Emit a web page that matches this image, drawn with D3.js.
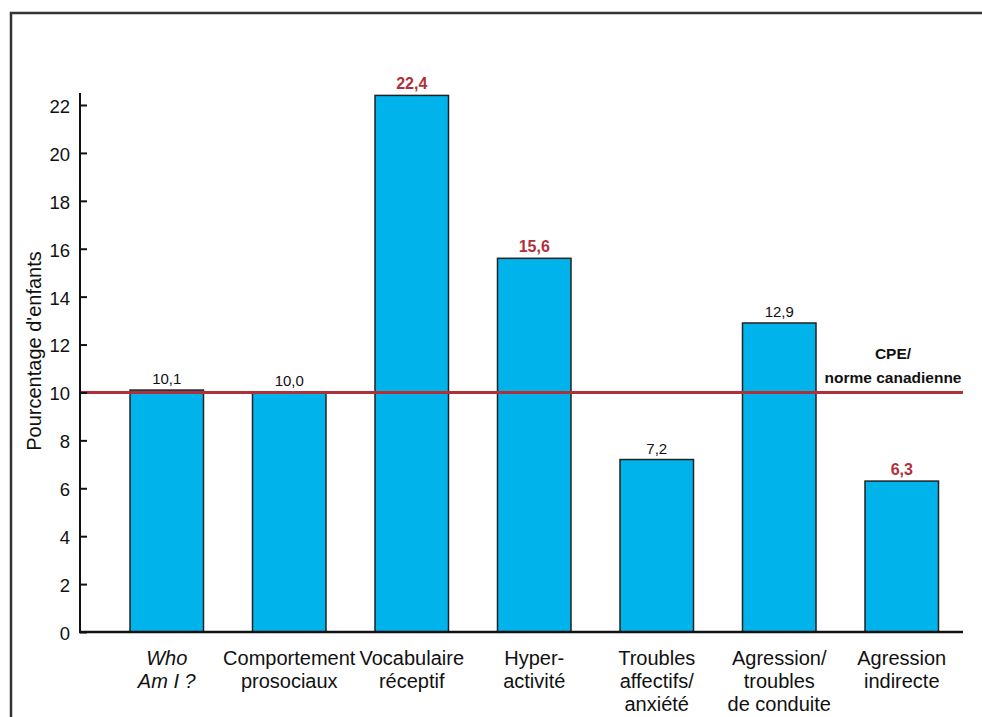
<!DOCTYPE html>
<html lang="fr">
<head>
<meta charset="UTF-8">
<title>Pourcentage d'enfants</title>
<script src="https://d3js.org/d3.v7.min.js"></script>
<style>
  body { margin: 0; background: white; font-family: "Liberation Sans", Arial, sans-serif; }
  svg { display: block; }
</style>
</head>
<body>
<svg width="982" height="717"></svg>
<script>
// data
const categories = [
  ["Who", "Am I ?"],
  ["Comportement", "prosociaux"],
  ["Vocabulaire", "réceptif"],
  ["Hyper-", "activité"],
  ["Troubles", "affectifs/", "anxiété"],
  ["Agression/", "troubles", "de conduite"],
  ["Agression", "indirecte"]
];
const values = [10.1, 10.0, 22.4, 15.6, 7.2, 12.9, 6.3];
const highlighted = [false, false, true, true, false, false, true];
const norm = 10;
const yTicks = [0, 2, 4, 6, 8, 10, 12, 14, 16, 18, 20, 22];

const svg = d3.select("svg");
const red = "#b0303a";

// frame
svg.append("rect")
  .attr("x", 11).attr("y", 13).attr("width", 990).attr("height", 720)
  .attr("fill", "none").attr("stroke", "#333").attr("stroke-width", 2.5);

const x = d3.scaleBand()
  .domain(d3.range(values.length))
  .range([105.5, 963])
  .paddingInner(0.4).paddingOuter(0.2);

const y = d3.scaleLinear().domain([0, 22]).range([632, 105]);

// bars
svg.selectAll("rect.bar").data(values).join("rect")
  .attr("class", "bar")
  .attr("x", (d, i) => x(i))
  .attr("y", d => y(d))
  .attr("width", x.bandwidth())
  .attr("height", d => y(0) - y(d))
  .attr("fill", "#00b3ea")
  .attr("stroke", "#222")
  .attr("stroke-width", 1.5);

// value labels
svg.selectAll("text.val").data(values).join("text")
  .attr("class", "val")
  .attr("x", (d, i) => x(i) + x.bandwidth() / 2)
  .attr("y", d => y(d) - 6)
  .attr("text-anchor", "middle")
  .attr("font-size", (d, i) => highlighted[i] ? 16 : 15)
  .attr("font-weight", (d, i) => highlighted[i] ? "bold" : "normal")
  .attr("fill", (d, i) => highlighted[i] ? red : "#111")
  .text(d => d.toFixed(1).replace(".", ","));

// norm line
svg.append("line")
  .attr("x1", 80).attr("x2", 963)
  .attr("y1", y(norm)).attr("y2", y(norm))
  .attr("stroke", red).attr("stroke-width", 3);

const normLabel = svg.append("text")
  .attr("text-anchor", "middle")
  .attr("font-size", 15.5).attr("font-weight", "bold").attr("fill", "#111");
normLabel.append("tspan").attr("x", 893).attr("y", 359).text("CPE/");
normLabel.append("tspan").attr("x", 893).attr("y", 383).text("norme canadienne");

// y axis
const yAxis = svg.append("g")
  .attr("transform", "translate(80,0)")
  .call(d3.axisRight(y).tickValues(yTicks).tickSize(7).tickFormat(d3.format("d")));
yAxis.select(".domain").attr("d", "M0," + y(22.5) + "V" + y(0)).attr("stroke", "#111").attr("stroke-width", 2);
yAxis.selectAll(".tick line").attr("stroke", "#111").attr("stroke-width", 2);
yAxis.selectAll(".tick text")
  .attr("x", -10).attr("dy", "0.4em").attr("text-anchor", "end")
  .attr("font-size", 18.5).attr("font-family", "Liberation Sans, Arial, sans-serif").attr("fill", "#111");

// x axis line
svg.append("line")
  .attr("x1", 79).attr("x2", 963)
  .attr("y1", y(0)).attr("y2", y(0))
  .attr("stroke", "#111").attr("stroke-width", 2.5);

// category labels
const cat = svg.selectAll("text.cat").data(categories).join("text")
  .attr("class", "cat")
  .attr("text-anchor", "middle")
  .attr("font-size", 20)
  .attr("fill", "#111")
  .attr("font-style", (d, i) => i === 0 ? "italic" : "normal");
cat.selectAll("tspan").data(d => d).join("tspan")
  .attr("x", function () { return x(categories.indexOf(d3.select(this.parentNode).datum())) + x.bandwidth() / 2; })
  .attr("y", (d, j) => 665 + j * 23)
  .text(d => d);

// y axis title
svg.append("text")
  .attr("transform", "translate(41,351) rotate(-90)")
  .attr("text-anchor", "middle")
  .attr("font-size", 20)
  .attr("fill", "#111")
  .text("Pourcentage d'enfants");
</script>
</body>
</html>
